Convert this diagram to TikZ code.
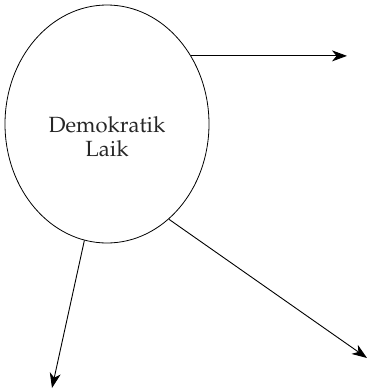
\documentclass[tikz,border=0pt]{standalone}
\usepackage[T1]{fontenc}
\usepackage{mathpazo}
\usetikzlibrary{shapes.geometric,arrows.meta}
\tikzset{
  circ/.style={draw, ellipse, line width=0.8pt, minimum width=204pt, minimum height=238pt, inner sep=0pt},
  lbl/.style={align=center, inner sep=0pt, font=\fontsize{22}{24}\selectfont, text=black!85},
  arr/.style={line width=0.9pt, -{Stealth[length=15pt,width=11pt,inset=4.5pt]}}
}
\begin{document}
\begin{tikzpicture}[x=1pt,y=-1pt]
\useasboundingbox (0,0) rectangle (367,389);
\node[circ] (e) at (107,124) {};
\node[lbl] (t) at (107,137) {Demokratik\\Laik};
\coordinate (a) at (347,55);
\coordinate (b) at (52,388);
\coordinate (c) at (367,358);
\draw[arr] (e.39.7) -- (e.39.7 -| a);
\draw[arr] (e.259.9) -- (b);
\draw[arr] (e.303.7) -- (c);
\end{tikzpicture}
\end{document}
